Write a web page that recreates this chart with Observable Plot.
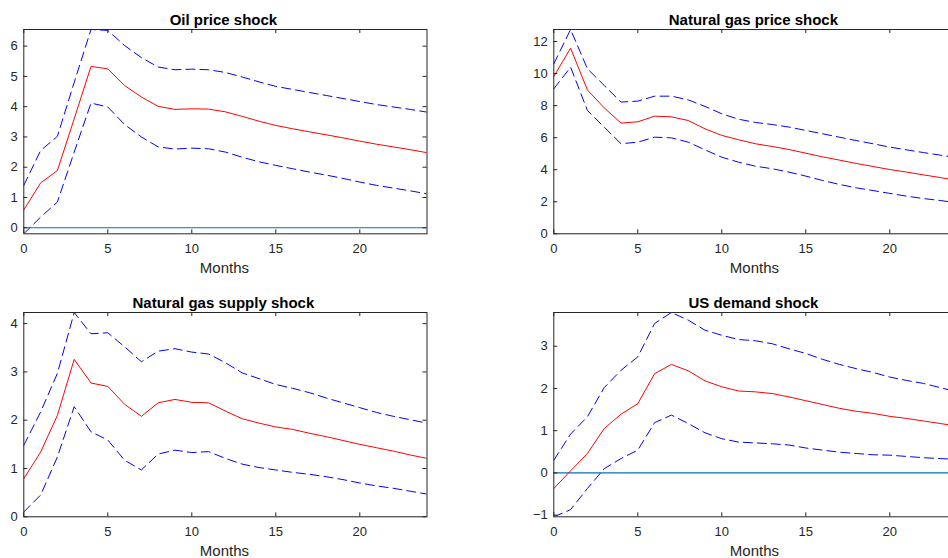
<!DOCTYPE html>
<html><head><meta charset="utf-8">
<script src="https://cdn.jsdelivr.net/npm/d3@7"></script>
<script src="https://cdn.jsdelivr.net/npm/@observablehq/plot@0.6"></script>
<style>
html,body{margin:0;padding:0;background:#fff;overflow:hidden;}
#fig{position:relative;width:948px;height:558px;overflow:hidden;background:#fff;}
#fig svg{position:absolute;overflow:visible;}
</style></head><body><div id="fig"></div>
<script>
const months = [0,1,2,3,4,5,6,7,8,9,10,11,12,13,14,15,16,17,18,19,20,21,22,23,24];
const xTicks = [0,5,10,15,20];

const oilMid   = [0.59,1.48,1.89,3.60,5.33,5.25,4.70,4.32,4.01,3.91,3.93,3.92,3.83,3.68,3.52,3.38,3.27,3.17,3.07,2.97,2.86,2.76,2.67,2.58,2.48];
const oilUpper = [1.40,2.55,3.02,4.80,6.55,6.52,6.02,5.62,5.31,5.22,5.24,5.22,5.13,4.98,4.82,4.67,4.57,4.47,4.37,4.27,4.17,4.07,3.99,3.91,3.82];
const oilLower = [-0.20,0.35,0.85,2.50,4.12,3.99,3.41,3.00,2.67,2.60,2.63,2.61,2.50,2.33,2.18,2.06,1.95,1.84,1.74,1.63,1.51,1.40,1.31,1.22,1.12];
const oilTicks = [0,1,2,3,4,5,6];

const gasMid   = [9.82,11.58,8.98,7.86,6.91,6.99,7.34,7.30,7.07,6.55,6.14,5.87,5.62,5.45,5.26,5.03,4.80,4.60,4.39,4.20,4.01,3.85,3.68,3.51,3.33];
const gasUpper = [10.61,12.75,10.30,9.26,8.22,8.28,8.59,8.59,8.36,7.95,7.49,7.15,6.95,6.82,6.66,6.45,6.24,6.03,5.82,5.62,5.41,5.24,5.07,4.91,4.74];
const gasLower = [9.05,10.40,7.70,6.66,5.62,5.72,6.03,5.99,5.72,5.24,4.78,4.47,4.22,4.06,3.85,3.60,3.33,3.08,2.87,2.70,2.52,2.35,2.20,2.08,1.93];
const gasTicks = [0,2,4,6,8,10,12];

const supplyMid   = [0.79,1.34,2.10,3.26,2.77,2.70,2.33,2.08,2.36,2.43,2.37,2.36,2.19,2.03,1.94,1.86,1.81,1.73,1.66,1.58,1.50,1.43,1.36,1.28,1.21];
const supplyUpper = [1.48,2.17,2.97,4.23,3.79,3.81,3.52,3.21,3.43,3.48,3.41,3.37,3.19,2.98,2.86,2.74,2.66,2.57,2.46,2.36,2.26,2.16,2.08,2.01,1.94];
const supplyLower = [0.10,0.45,1.24,2.28,1.76,1.59,1.17,0.97,1.30,1.38,1.33,1.35,1.21,1.09,1.02,0.97,0.92,0.88,0.83,0.77,0.70,0.64,0.59,0.53,0.47];
const supplyTicks = [0,1,2,3,4];

const demandMid   = [-0.37,0.05,0.46,1.05,1.39,1.64,2.35,2.57,2.42,2.18,2.04,1.94,1.92,1.88,1.80,1.71,1.62,1.53,1.46,1.41,1.34,1.29,1.23,1.17,1.11];
const demandUpper = [0.30,0.92,1.33,2.02,2.43,2.75,3.54,3.80,3.62,3.38,3.26,3.16,3.13,3.06,2.94,2.83,2.69,2.57,2.47,2.38,2.27,2.19,2.12,2.02,1.92];
const demandLower = [-1.04,-0.87,-0.37,0.10,0.34,0.54,1.19,1.37,1.17,0.95,0.81,0.73,0.71,0.69,0.66,0.59,0.54,0.49,0.46,0.43,0.42,0.39,0.36,0.34,0.32];
const demandTicks = [-1,0,1,2,3];

const titles = ["Oil price shock","Natural gas price shock","Natural gas supply shock","US demand shock"];
const xLabel = "Months";

const FONT = "'Liberation Sans', Helvetica, Arial, sans-serif";
const AX = "#262626";

function panel({title, mid, upper, lower, yDomain, yTicks, left, top}) {
  const W = 480, H = 285;
  const mL = 23.3, mT = 29, fw = 403.2, fh = 204.3;
  const rows = months.map((m, i) => ({m, mid: mid[i], upper: upper[i], lower: lower[i]}));
  const tl = 4;
  const svg = Plot.plot({
    width: W, height: H,
    marginLeft: mL, marginRight: W - mL - fw, marginTop: mT, marginBottom: H - mT - fh,
    style: {fontFamily: FONT, fontSize: "13px", color: AX, background: "transparent"},
    x: {domain: [0, 24]},
    y: {domain: yDomain},
    marks: [
      Plot.ruleY([0], {stroke: "#0072BD", strokeWidth: 1.2, clip: true}),
      Plot.line(rows, {x: "m", y: "upper", stroke: "#0000FF", strokeWidth: 1, strokeDasharray: "9,5", clip: true}),
      Plot.line(rows, {x: "m", y: "lower", stroke: "#0000FF", strokeWidth: 1, strokeDasharray: "9,5", clip: true}),
      Plot.line(rows, {x: "m", y: "mid", stroke: "#FF0000", strokeWidth: 1, clip: true}),
      Plot.frame({stroke: AX, strokeWidth: 1}),
      Plot.tickX(xTicks, {x: d => d, insetTop: fh - tl, stroke: AX}),
      Plot.tickX(xTicks, {x: d => d, insetBottom: fh - tl, stroke: AX}),
      Plot.tickY(yTicks, {y: d => d, insetRight: fw - tl, stroke: AX}),
      Plot.tickY(yTicks, {y: d => d, insetLeft: fw - tl, stroke: AX}),
      Plot.axisX(xTicks, {tickSize: 0, tickPadding: 10, label: null, fontSize: 13, fill: AX}),
      Plot.axisY(yTicks, {tickSize: 0, tickPadding: 6, label: null, fontSize: 13, fill: AX}),
      Plot.text([title], {frameAnchor: "top", dy: -4.7, dx: -2, lineAnchor: "bottom", text: d => d, fontWeight: "bold", fontSize: 15, fill: "#000"}),
      Plot.text([xLabel], {frameAnchor: "bottom", dy: 38.7, dx: -1, lineAnchor: "bottom", text: d => d, fontSize: 15, fill: AX})
    ]
  });
  svg.style.left = left + "px";
  svg.style.top = top + "px";
  document.getElementById("fig").appendChild(svg);
}

panel({title: titles[0], mid: oilMid, upper: oilUpper, lower: oilLower, yDomain: [-0.2, 6.55], yTicks: oilTicks, left: 0, top: 0});
panel({title: titles[1], mid: gasMid, upper: gasUpper, lower: gasLower, yDomain: [0, 12.75], yTicks: gasTicks, left: 530, top: 0});
panel({title: titles[2], mid: supplyMid, upper: supplyUpper, lower: supplyLower, yDomain: [0, 4.23], yTicks: supplyTicks, left: 0, top: 283.3});
panel({title: titles[3], mid: demandMid, upper: demandUpper, lower: demandLower, yDomain: [-1.04, 3.80], yTicks: demandTicks, left: 530, top: 283.3});
</script></body></html>
